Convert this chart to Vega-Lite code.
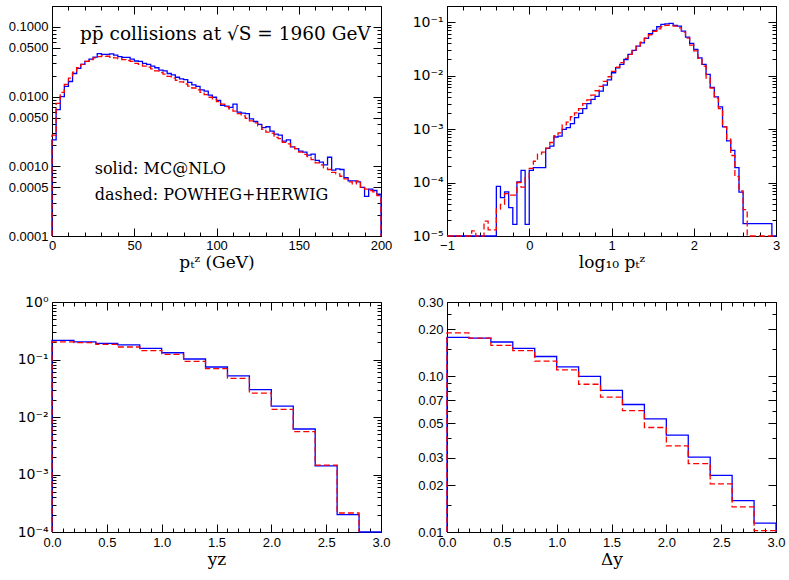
{
"$schema":"https://vega.github.io/schema/vega-lite/v6.json",
"padding":{"left":8,"top":5,"right":5,"bottom":5},
"background":"white",
"bounds":"flush",
"columns":2,
"spacing":{"row":66,"column":66},
"config":{"view":{"stroke":null},
 "axis":{"grid":false,"labelFont":"Liberation Sans","labelFontSize":13,"labelColor":"#000","domainColor":"#000","domainWidth":1,"tickColor":"#000","tickWidth":1,"labelFlush":false,"labelOverlap":false,"titleFont":"DejaVu Serif","titleFontSize":17,"titleFontWeight":"normal","titleColor":"#000","titlePadding":2}},
"datasets":{
"p1b":[{"x":0,"y":1e-9},{"x":0,"y":0.0024},{"x":2.5,"y":0.0065},{"x":5,"y":0.01},{"x":7.5,"y":0.014},{"x":10,"y":0.0165},{"x":12.5,"y":0.0215},{"x":15,"y":0.0255},{"x":17.5,"y":0.029},{"x":20,"y":0.032},{"x":22.5,"y":0.0345},{"x":25,"y":0.037},{"x":27.5,"y":0.0415},{"x":30,"y":0.0405},{"x":32.5,"y":0.0405},{"x":35,"y":0.041},{"x":37.5,"y":0.0395},{"x":40,"y":0.0375},{"x":42.5,"y":0.0365},{"x":45,"y":0.0365},{"x":47.5,"y":0.0345},{"x":50,"y":0.0325},{"x":52.5,"y":0.032},{"x":55,"y":0.03},{"x":57.5,"y":0.029},{"x":60,"y":0.0275},{"x":62.5,"y":0.026},{"x":65,"y":0.024},{"x":67.5,"y":0.0235},{"x":70,"y":0.0215},{"x":72.5,"y":0.0205},{"x":75,"y":0.019},{"x":77.5,"y":0.018},{"x":80,"y":0.0175},{"x":82.5,"y":0.016},{"x":85,"y":0.0148},{"x":87.5,"y":0.014},{"x":90,"y":0.0125},{"x":92.5,"y":0.012},{"x":95,"y":0.0105},{"x":97.5,"y":0.0098},{"x":100,"y":0.0088},{"x":102.5,"y":0.0075},{"x":105,"y":0.0073},{"x":107.5,"y":0.007},{"x":110,"y":0.0078},{"x":112.5,"y":0.006},{"x":115,"y":0.0058},{"x":117.5,"y":0.0057},{"x":120,"y":0.0048},{"x":122.5,"y":0.0044},{"x":125,"y":0.004},{"x":127.5,"y":0.0036},{"x":130,"y":0.0037},{"x":132.5,"y":0.0032},{"x":135,"y":0.0029},{"x":137.5,"y":0.0028},{"x":140,"y":0.0023},{"x":142.5,"y":0.0024},{"x":145,"y":0.0019},{"x":147.5,"y":0.0018},{"x":150,"y":0.00165},{"x":152.5,"y":0.0016},{"x":155,"y":0.00145},{"x":157.5,"y":0.0015},{"x":160,"y":0.00122},{"x":162.5,"y":0.00115},{"x":165,"y":0.00105},{"x":167.5,"y":0.00135},{"x":170,"y":0.00088},{"x":172.5,"y":0.00092},{"x":175,"y":0.0009},{"x":177.5,"y":0.00069},{"x":180,"y":0.00062},{"x":182.5,"y":0.00062},{"x":185,"y":0.0006},{"x":187.5,"y":0.0005},{"x":190,"y":0.00037},{"x":192.5,"y":0.00047},{"x":195,"y":0.00045},{"x":197.5,"y":0.0004},{"x":200,"y":0.0004},{"x":200,"y":1e-9}],
"p1r":[{"x":0,"y":1e-9},{"x":0,"y":0.0028},{"x":2.5,"y":0.008},{"x":5,"y":0.0115},{"x":7.5,"y":0.015},{"x":10,"y":0.0185},{"x":12.5,"y":0.0225},{"x":15,"y":0.026},{"x":17.5,"y":0.029},{"x":20,"y":0.032},{"x":22.5,"y":0.034},{"x":25,"y":0.036},{"x":27.5,"y":0.0375},{"x":30,"y":0.0385},{"x":32.5,"y":0.038},{"x":35,"y":0.037},{"x":37.5,"y":0.036},{"x":40,"y":0.035},{"x":42.5,"y":0.034},{"x":45,"y":0.033},{"x":47.5,"y":0.032},{"x":50,"y":0.03},{"x":52.5,"y":0.029},{"x":55,"y":0.0275},{"x":57.5,"y":0.0265},{"x":60,"y":0.025},{"x":62.5,"y":0.0235},{"x":65,"y":0.0222},{"x":67.5,"y":0.021},{"x":70,"y":0.0195},{"x":72.5,"y":0.0185},{"x":75,"y":0.0172},{"x":77.5,"y":0.0163},{"x":80,"y":0.0152},{"x":82.5,"y":0.0142},{"x":85,"y":0.0133},{"x":87.5,"y":0.0125},{"x":90,"y":0.0115},{"x":92.5,"y":0.0107},{"x":95,"y":0.0098},{"x":97.5,"y":0.0092},{"x":100,"y":0.0085},{"x":102.5,"y":0.0078},{"x":105,"y":0.0072},{"x":107.5,"y":0.0067},{"x":110,"y":0.0062},{"x":112.5,"y":0.0057},{"x":115,"y":0.0053},{"x":117.5,"y":0.0049},{"x":120,"y":0.0045},{"x":122.5,"y":0.0042},{"x":125,"y":0.0038},{"x":127.5,"y":0.0034},{"x":130,"y":0.0031},{"x":132.5,"y":0.003},{"x":135,"y":0.0026},{"x":137.5,"y":0.0025},{"x":140,"y":0.0022},{"x":142.5,"y":0.0021},{"x":145,"y":0.0019},{"x":147.5,"y":0.0018},{"x":150,"y":0.0016},{"x":152.5,"y":0.00148},{"x":155,"y":0.00138},{"x":157.5,"y":0.00125},{"x":160,"y":0.00112},{"x":162.5,"y":0.00105},{"x":165,"y":0.00095},{"x":167.5,"y":0.0009},{"x":170,"y":0.00082},{"x":172.5,"y":0.00078},{"x":175,"y":0.00072},{"x":177.5,"y":0.00066},{"x":180,"y":0.0006},{"x":182.5,"y":0.00056},{"x":185,"y":0.00062},{"x":187.5,"y":0.0005},{"x":190,"y":0.00047},{"x":192.5,"y":0.00045},{"x":195,"y":0.00043},{"x":197.5,"y":0.00038},{"x":200,"y":0.00038},{"x":200,"y":1e-9}],
"p2b":[{"x":-1,"y":1e-9},{"x":-0.95,"y":1e-9},{"x":-0.9,"y":1e-9},{"x":-0.85,"y":1e-9},{"x":-0.8,"y":1e-9},{"x":-0.75,"y":1e-9},{"x":-0.7,"y":1e-9},{"x":-0.65,"y":1e-9},{"x":-0.6,"y":1e-9},{"x":-0.55,"y":1e-9},{"x":-0.5,"y":1e-9},{"x":-0.45,"y":1e-9},{"x":-0.4,"y":8.5e-5},{"x":-0.35,"y":5.2e-5},{"x":-0.3,"y":6.7e-5},{"x":-0.25,"y":3.4e-5},{"x":-0.2,"y":1.65e-5},{"x":-0.15,"y":1.03e-4},{"x":-0.1,"y":1.69e-4},{"x":-0.05,"y":1.65e-5},{"x":0,"y":1.69e-4},{"x":0.05,"y":1.9e-4},{"x":0.1,"y":1.9e-4},{"x":0.15,"y":1.9e-4},{"x":0.2,"y":4.35e-4},{"x":0.25,"y":4.8e-4},{"x":0.3,"y":7.1e-4},{"x":0.35,"y":7.4e-4},{"x":0.4,"y":9.9e-4},{"x":0.45,"y":1.06e-3},{"x":0.5,"y":1.26e-3},{"x":0.55,"y":1.63e-3},{"x":0.6,"y":1.96e-3},{"x":0.65,"y":2.4e-3},{"x":0.7,"y":2.98e-3},{"x":0.75,"y":3.6e-3},{"x":0.8,"y":4.1e-3},{"x":0.85,"y":5.1e-3},{"x":0.9,"y":6.6e-3},{"x":0.95,"y":8.3e-3},{"x":1,"y":0.0113},{"x":1.05,"y":0.014},{"x":1.1,"y":0.0162},{"x":1.15,"y":0.02},{"x":1.2,"y":0.0249},{"x":1.25,"y":0.0295},{"x":1.3,"y":0.0356},{"x":1.35,"y":0.041},{"x":1.4,"y":0.0496},{"x":1.45,"y":0.0605},{"x":1.5,"y":0.07},{"x":1.55,"y":0.0818},{"x":1.6,"y":0.0906},{"x":1.65,"y":0.093},{"x":1.7,"y":0.0944},{"x":1.75,"y":0.0867},{"x":1.8,"y":0.084},{"x":1.85,"y":0.068},{"x":1.9,"y":0.0525},{"x":1.95,"y":0.04},{"x":2,"y":0.0308},{"x":2.05,"y":0.0215},{"x":2.1,"y":0.0162},{"x":2.15,"y":0.0105},{"x":2.2,"y":0.006},{"x":2.25,"y":0.004},{"x":2.3,"y":0.0026},{"x":2.35,"y":0.0011},{"x":2.4,"y":0.0006},{"x":2.45,"y":0.0004},{"x":2.5,"y":0.00019},{"x":2.55,"y":0.000066},{"x":2.6,"y":1.7e-5},{"x":2.65,"y":1.7e-5},{"x":2.7,"y":1.7e-5},{"x":2.75,"y":1.7e-5},{"x":2.8,"y":1.7e-5},{"x":2.85,"y":1.7e-5},{"x":2.9,"y":1.7e-5},{"x":2.95,"y":1e-9},{"x":3,"y":1e-9}],
"p2r":[{"x":-1,"y":1e-9},{"x":-0.95,"y":1e-9},{"x":-0.9,"y":1e-9},{"x":-0.85,"y":1e-9},{"x":-0.8,"y":1e-9},{"x":-0.75,"y":1e-9},{"x":-0.7,"y":1.25e-5},{"x":-0.65,"y":1e-9},{"x":-0.6,"y":1e-9},{"x":-0.55,"y":1.9e-5},{"x":-0.5,"y":1.3e-5},{"x":-0.45,"y":1.3e-5},{"x":-0.4,"y":3.2e-5},{"x":-0.35,"y":3.9e-5},{"x":-0.3,"y":6.2e-5},{"x":-0.25,"y":5.8e-5},{"x":-0.2,"y":5.8e-5},{"x":-0.15,"y":1e-4},{"x":-0.1,"y":8.2e-5},{"x":-0.05,"y":1.23e-4},{"x":0,"y":1.84e-4},{"x":0.05,"y":2.5e-4},{"x":0.1,"y":3.4e-4},{"x":0.15,"y":3.7e-4},{"x":0.2,"y":4.4e-4},{"x":0.25,"y":5.6e-4},{"x":0.3,"y":7.5e-4},{"x":0.35,"y":8.5e-4},{"x":0.4,"y":1.2e-3},{"x":0.45,"y":1.35e-3},{"x":0.5,"y":1.7e-3},{"x":0.55,"y":2e-3},{"x":0.6,"y":2.4e-3},{"x":0.65,"y":3e-3},{"x":0.7,"y":3.5e-3},{"x":0.75,"y":4.3e-3},{"x":0.8,"y":5.2e-3},{"x":0.85,"y":6.3e-3},{"x":0.9,"y":7.8e-3},{"x":0.95,"y":9.5e-3},{"x":1,"y":0.012},{"x":1.05,"y":0.0143},{"x":1.1,"y":0.0175},{"x":1.15,"y":0.021},{"x":1.2,"y":0.025},{"x":1.25,"y":0.03},{"x":1.3,"y":0.0355},{"x":1.35,"y":0.042},{"x":1.4,"y":0.05},{"x":1.45,"y":0.058},{"x":1.5,"y":0.067},{"x":1.55,"y":0.075},{"x":1.6,"y":0.082},{"x":1.65,"y":0.087},{"x":1.7,"y":0.088},{"x":1.75,"y":0.084},{"x":1.8,"y":0.078},{"x":1.85,"y":0.065},{"x":1.9,"y":0.05},{"x":1.95,"y":0.037},{"x":2,"y":0.029},{"x":2.05,"y":0.021},{"x":2.1,"y":0.015},{"x":2.15,"y":0.009},{"x":2.2,"y":0.0058},{"x":2.25,"y":0.0038},{"x":2.3,"y":0.0024},{"x":2.35,"y":0.0011},{"x":2.4,"y":0.00065},{"x":2.45,"y":0.00032},{"x":2.5,"y":0.00013},{"x":2.55,"y":0.00007},{"x":2.6,"y":3.1e-5},{"x":2.65,"y":1e-9},{"x":2.7,"y":1e-9},{"x":2.75,"y":1e-9},{"x":2.8,"y":1e-9},{"x":2.85,"y":1e-9},{"x":2.9,"y":1e-9},{"x":2.95,"y":1e-9},{"x":3,"y":1e-9}],
"p3b":[{"x":0,"y":1e-9},{"x":0,"y":0.215},{"x":0.2,"y":0.202},{"x":0.4,"y":0.191},{"x":0.6,"y":0.179},{"x":0.8,"y":0.156},{"x":1,"y":0.131},{"x":1.2,"y":0.102},{"x":1.4,"y":0.0741},{"x":1.6,"y":0.0517},{"x":1.8,"y":0.0299},{"x":2,"y":0.0155},{"x":2.2,"y":0.00618},{"x":2.4,"y":0.00141},{"x":2.6,"y":0.0002},{"x":2.8,"y":1e-9},{"x":3,"y":1e-9}],
"p3r":[{"x":0,"y":1e-9},{"x":0,"y":0.202},{"x":0.2,"y":0.197},{"x":0.4,"y":0.183},{"x":0.6,"y":0.165},{"x":0.8,"y":0.143},{"x":1,"y":0.123},{"x":1.2,"y":0.093},{"x":1.4,"y":0.0693},{"x":1.6,"y":0.047},{"x":1.8,"y":0.0261},{"x":2,"y":0.0136},{"x":2.2,"y":0.00556},{"x":2.4,"y":0.00146},{"x":2.6,"y":0.000214},{"x":2.8,"y":1e-9}],
"p4b":[{"x":0,"y":1e-9},{"x":0,"y":0.178},{"x":0.2,"y":0.176},{"x":0.4,"y":0.166},{"x":0.6,"y":0.151},{"x":0.8,"y":0.134},{"x":1,"y":0.115},{"x":1.2,"y":0.1},{"x":1.4,"y":0.0812},{"x":1.6,"y":0.0659},{"x":1.8,"y":0.0532},{"x":2,"y":0.0419},{"x":2.2,"y":0.0303},{"x":2.4,"y":0.0231},{"x":2.6,"y":0.0159},{"x":2.8,"y":0.0114},{"x":3,"y":0.0114},{"x":3,"y":1e-9}],
"p4r":[{"x":0,"y":1e-9},{"x":0,"y":0.19},{"x":0.2,"y":0.176},{"x":0.4,"y":0.158},{"x":0.6,"y":0.146},{"x":0.8,"y":0.125},{"x":1,"y":0.11},{"x":1.2,"y":0.0889},{"x":1.4,"y":0.0735},{"x":1.6,"y":0.0602},{"x":1.8,"y":0.0469},{"x":2,"y":0.0357},{"x":2.2,"y":0.0275},{"x":2.4,"y":0.0204},{"x":2.6,"y":0.0145},{"x":2.8,"y":0.0102},{"x":3,"y":0.0102},{"x":3,"y":1e-9}]
},
"concat":[
{"width":329,"height":230,
 "layer":[
  {"data":{"name":"p1b"},"mark":{"type":"line","interpolate":"step-after","color":"#0000ff","strokeWidth":1.3},
   "encoding":{
    "x":{"field":"x","type":"quantitative","scale":{"domain":[0,200],"nice":false,"zero":false},"axis":{"orient":"bottom","values":[0,50,100,150,200],"format":"d","tickSize":-8,"labelPadding":11,"title":"pₜᶻ (GeV)"}},
    "y":{"field":"y","type":"quantitative","scale":{"type":"log","domain":[0.0001,0.2],"nice":false,"clamp":true},"axis":{"orient":"left","values":[0.0001,0.0005,0.001,0.005,0.01,0.05,0.1],"format":".4f","tickSize":-8,"labelPadding":12,"title":null}},
    "order":{"value":null}}},
  {"data":{"name":"p1r"},"mark":{"type":"line","interpolate":"step-after","color":"#ff0000","strokeWidth":1.3,"strokeDash":[6,3]},
   "encoding":{
    "x":{"field":"x","type":"quantitative","scale":{"domain":[0,200],"nice":false,"zero":false},"axis":{"orient":"top","values":[0,50,100,150,200],"tickSize":-8,"labels":false,"title":null}},
    "y":{"field":"y","type":"quantitative","scale":{"type":"log","domain":[0.0001,0.2],"nice":false,"clamp":true},"axis":{"orient":"right","values":[0.0001,0.0005,0.001,0.005,0.01,0.05,0.1],"tickSize":-8,"labels":false,"title":null}},
    "order":{"value":null}}},
  {"data":{"name":"p1b"},"mark":{"type":"line","interpolate":"step-after","opacity":0},
   "encoding":{
    "x":{"field":"x","type":"quantitative","scale":{"domain":[0,200],"nice":false,"zero":false},"axis":{"orient":"bottom","values":[10,20,30,40,60,70,80,90,110,120,130,140,160,170,180,190],"tickSize":-4,"labels":false,"domain":false,"title":null}},
    "y":{"field":"y","type":"quantitative","scale":{"type":"log","domain":[0.0001,0.2],"nice":false,"clamp":true},"axis":{"orient":"left","values":[0.0002,0.0003,0.0004,0.0006,0.0007,0.0008,0.0009,0.002,0.003,0.004,0.006,0.007,0.008,0.009,0.02,0.03,0.04,0.06,0.07,0.08,0.09,0.2],"tickSize":-4,"labels":false,"domain":false,"title":null}},
    "order":{"value":null}}},
  {"data":{"name":"p1b"},"mark":{"type":"line","interpolate":"step-after","opacity":0},
   "encoding":{
    "x":{"field":"x","type":"quantitative","scale":{"domain":[0,200],"nice":false,"zero":false},"axis":{"orient":"top","values":[10,20,30,40,60,70,80,90,110,120,130,140,160,170,180,190],"tickSize":-4,"labels":false,"domain":false,"title":null}},
    "y":{"field":"y","type":"quantitative","scale":{"type":"log","domain":[0.0001,0.2],"nice":false,"clamp":true},"axis":{"orient":"right","values":[0.0002,0.0003,0.0004,0.0006,0.0007,0.0008,0.0009,0.002,0.003,0.004,0.006,0.007,0.008,0.009,0.02,0.03,0.04,0.06,0.07,0.08,0.09,0.2],"tickSize":-4,"labels":false,"domain":false,"title":null}},
    "order":{"value":null}}},
  {"data":{"values":[{"t":"pp̄ collisions at √S = 1960 GeV","x":17,"y":0.065}]},"mark":{"type":"text","font":"DejaVu Serif","fontSize":18.5,"align":"left","baseline":"alphabetic","color":"#000"},
   "encoding":{"x":{"field":"x","type":"quantitative","scale":{"domain":[0,200],"nice":false,"zero":false},"axis":null},"y":{"field":"y","type":"quantitative","scale":{"type":"log","domain":[0.0001,0.2],"nice":false,"clamp":true},"axis":null},"text":{"field":"t"}}},
  {"data":{"values":[{"t":"solid: MC@NLO","x":26,"y":0.00078},{"t":"dashed: POWHEG+HERWIG","x":26,"y":0.00033}]},"mark":{"type":"text","font":"DejaVu Serif","fontSize":16,"align":"left","baseline":"alphabetic","color":"#000"},
   "encoding":{"x":{"field":"x","type":"quantitative","scale":{"domain":[0,200],"nice":false,"zero":false},"axis":null},"y":{"field":"y","type":"quantitative","scale":{"type":"log","domain":[0.0001,0.2],"nice":false,"clamp":true},"axis":null},"text":{"field":"t"}}}
 ],
 "resolve":{"axis":{"x":"independent","y":"independent"}}},
{"width":329,"height":230,
 "layer":[
  {"data":{"name":"p2b"},"mark":{"type":"line","interpolate":"step-after","color":"#0000ff","strokeWidth":1.3},
   "encoding":{
    "x":{"field":"x","type":"quantitative","scale":{"domain":[-1,3],"nice":false,"zero":false},"axis":{"orient":"bottom","values":[-1,0,1,2,3],"format":"d","tickSize":-8,"labelPadding":11,"title":"log₁₀ pₜᶻ"}},
    "y":{"field":"y","type":"quantitative","scale":{"type":"log","domain":[0.00001,0.2],"nice":false,"clamp":true},"axis":{"orient":"left","values":[0.00001,0.0001,0.001,0.01,0.1],"labelExpr":"['10⁻⁵','10⁻⁴','10⁻³','10⁻²','10⁻¹'][round(log(datum.value)/LN10)+5]","labelFont":"DejaVu Sans","labelFontSize":14,"tickSize":-8,"labelPadding":12,"title":null}},
    "order":{"value":null}}},
  {"data":{"name":"p2r"},"mark":{"type":"line","interpolate":"step-after","color":"#ff0000","strokeWidth":1.3,"strokeDash":[6,3]},
   "encoding":{
    "x":{"field":"x","type":"quantitative","scale":{"domain":[-1,3],"nice":false,"zero":false},"axis":{"orient":"top","values":[-1,0,1,2,3],"tickSize":-8,"labels":false,"title":null}},
    "y":{"field":"y","type":"quantitative","scale":{"type":"log","domain":[0.00001,0.2],"nice":false,"clamp":true},"axis":{"orient":"right","values":[0.00001,0.0001,0.001,0.01,0.1],"tickSize":-8,"labels":false,"title":null}},
    "order":{"value":null}}},
  {"data":{"name":"p2b"},"mark":{"type":"line","interpolate":"step-after","opacity":0},
   "encoding":{
    "x":{"field":"x","type":"quantitative","scale":{"domain":[-1,3],"nice":false,"zero":false},"axis":{"orient":"bottom","values":[-0.8,-0.6,-0.4,-0.2,0.2,0.4,0.6,0.8,1.2,1.4,1.6,1.8,2.2,2.4,2.6,2.8],"tickSize":-4,"labels":false,"domain":false,"title":null}},
    "y":{"field":"y","type":"quantitative","scale":{"type":"log","domain":[0.00001,0.2],"nice":false,"clamp":true},"axis":{"orient":"left","values":[0.00002,0.00003,0.00004,0.00005,0.00006,0.00007,0.00008,0.00009,0.0002,0.0003,0.0004,0.0005,0.0006,0.0007,0.0008,0.0009,0.002,0.003,0.004,0.005,0.006,0.007,0.008,0.009,0.02,0.03,0.04,0.05,0.06,0.07,0.08,0.09,0.2],"tickSize":-4,"labels":false,"domain":false,"title":null}},
    "order":{"value":null}}},
  {"data":{"name":"p2b"},"mark":{"type":"line","interpolate":"step-after","opacity":0},
   "encoding":{
    "x":{"field":"x","type":"quantitative","scale":{"domain":[-1,3],"nice":false,"zero":false},"axis":{"orient":"top","values":[-0.8,-0.6,-0.4,-0.2,0.2,0.4,0.6,0.8,1.2,1.4,1.6,1.8,2.2,2.4,2.6,2.8],"tickSize":-4,"labels":false,"domain":false,"title":null}},
    "y":{"field":"y","type":"quantitative","scale":{"type":"log","domain":[0.00001,0.2],"nice":false,"clamp":true},"axis":{"orient":"right","values":[0.00002,0.00003,0.00004,0.00005,0.00006,0.00007,0.00008,0.00009,0.0002,0.0003,0.0004,0.0005,0.0006,0.0007,0.0008,0.0009,0.002,0.003,0.004,0.005,0.006,0.007,0.008,0.009,0.02,0.03,0.04,0.05,0.06,0.07,0.08,0.09,0.2],"tickSize":-4,"labels":false,"domain":false,"title":null}},
    "order":{"value":null}}}
 ],
 "resolve":{"axis":{"x":"independent","y":"independent"}}},
{"width":329,"height":230,
 "layer":[
  {"data":{"name":"p3b"},"mark":{"type":"line","interpolate":"step-after","color":"#0000ff","strokeWidth":1.3},
   "encoding":{
    "x":{"field":"x","type":"quantitative","scale":{"domain":[0,3],"nice":false,"zero":false},"axis":{"orient":"bottom","values":[0,0.5,1,1.5,2,2.5,3],"format":".1f","tickSize":-8,"labelPadding":12,"title":"yᴢ"}},
    "y":{"field":"y","type":"quantitative","scale":{"type":"log","domain":[0.0001,1],"nice":false,"clamp":true},"axis":{"orient":"left","values":[0.0001,0.001,0.01,0.1,1],"labelExpr":"['10⁻⁴','10⁻³','10⁻²','10⁻¹','10⁰'][round(log(datum.value)/LN10)+4]","labelFont":"DejaVu Sans","labelFontSize":14,"tickSize":-8,"labelPadding":12,"title":null}},
    "order":{"value":null}}},
  {"data":{"name":"p3r"},"mark":{"type":"line","interpolate":"step-after","color":"#ff0000","strokeWidth":1.3,"strokeDash":[6,3]},
   "encoding":{
    "x":{"field":"x","type":"quantitative","scale":{"domain":[0,3],"nice":false,"zero":false},"axis":{"orient":"top","values":[0,0.5,1,1.5,2,2.5,3],"tickSize":-8,"labels":false,"title":null}},
    "y":{"field":"y","type":"quantitative","scale":{"type":"log","domain":[0.0001,1],"nice":false,"clamp":true},"axis":{"orient":"right","values":[0.0001,0.001,0.01,0.1,1],"tickSize":-8,"labels":false,"title":null}},
    "order":{"value":null}}},
  {"data":{"name":"p3b"},"mark":{"type":"line","interpolate":"step-after","opacity":0},
   "encoding":{
    "x":{"field":"x","type":"quantitative","scale":{"domain":[0,3],"nice":false,"zero":false},"axis":{"orient":"bottom","values":[0.1,0.2,0.3,0.4,0.6,0.7,0.8,0.9,1.1,1.2,1.3,1.4,1.6,1.7,1.8,1.9,2.1,2.2,2.3,2.4,2.6,2.7,2.8,2.9],"tickSize":-4,"labels":false,"domain":false,"title":null}},
    "y":{"field":"y","type":"quantitative","scale":{"type":"log","domain":[0.0001,1],"nice":false,"clamp":true},"axis":{"orient":"left","values":[0.0002,0.0003,0.0004,0.0005,0.0006,0.0007,0.0008,0.0009,0.002,0.003,0.004,0.005,0.006,0.007,0.008,0.009,0.02,0.03,0.04,0.05,0.06,0.07,0.08,0.09,0.2,0.3,0.4,0.5,0.6,0.7,0.8,0.9],"tickSize":-4,"labels":false,"domain":false,"title":null}},
    "order":{"value":null}}},
  {"data":{"name":"p3b"},"mark":{"type":"line","interpolate":"step-after","opacity":0},
   "encoding":{
    "x":{"field":"x","type":"quantitative","scale":{"domain":[0,3],"nice":false,"zero":false},"axis":{"orient":"top","values":[0.1,0.2,0.3,0.4,0.6,0.7,0.8,0.9,1.1,1.2,1.3,1.4,1.6,1.7,1.8,1.9,2.1,2.2,2.3,2.4,2.6,2.7,2.8,2.9],"tickSize":-4,"labels":false,"domain":false,"title":null}},
    "y":{"field":"y","type":"quantitative","scale":{"type":"log","domain":[0.0001,1],"nice":false,"clamp":true},"axis":{"orient":"right","values":[0.0002,0.0003,0.0004,0.0005,0.0006,0.0007,0.0008,0.0009,0.002,0.003,0.004,0.005,0.006,0.007,0.008,0.009,0.02,0.03,0.04,0.05,0.06,0.07,0.08,0.09,0.2,0.3,0.4,0.5,0.6,0.7,0.8,0.9],"tickSize":-4,"labels":false,"domain":false,"title":null}},
    "order":{"value":null}}}
 ],
 "resolve":{"axis":{"x":"independent","y":"independent"}}},
{"width":329,"height":230,
 "layer":[
  {"data":{"name":"p4b"},"mark":{"type":"line","interpolate":"step-after","color":"#0000ff","strokeWidth":1.3},
   "encoding":{
    "x":{"field":"x","type":"quantitative","scale":{"domain":[0,3],"nice":false,"zero":false},"axis":{"orient":"bottom","values":[0,0.5,1,1.5,2,2.5,3],"format":".1f","tickSize":-8,"labelPadding":12,"title":"Δy"}},
    "y":{"field":"y","type":"quantitative","scale":{"type":"log","domain":[0.01,0.3],"nice":false,"clamp":true},"axis":{"orient":"left","values":[0.01,0.02,0.03,0.05,0.07,0.1,0.2,0.3],"format":".2f","tickSize":-8,"labelPadding":12,"title":null}},
    "order":{"value":null}}},
  {"data":{"name":"p4r"},"mark":{"type":"line","interpolate":"step-after","color":"#ff0000","strokeWidth":1.3,"strokeDash":[6,3]},
   "encoding":{
    "x":{"field":"x","type":"quantitative","scale":{"domain":[0,3],"nice":false,"zero":false},"axis":{"orient":"top","values":[0,0.5,1,1.5,2,2.5,3],"tickSize":-8,"labels":false,"title":null}},
    "y":{"field":"y","type":"quantitative","scale":{"type":"log","domain":[0.01,0.3],"nice":false,"clamp":true},"axis":{"orient":"right","values":[0.01,0.02,0.03,0.05,0.07,0.1,0.2,0.3],"tickSize":-8,"labels":false,"title":null}},
    "order":{"value":null}}},
  {"data":{"name":"p4b"},"mark":{"type":"line","interpolate":"step-after","opacity":0},
   "encoding":{
    "x":{"field":"x","type":"quantitative","scale":{"domain":[0,3],"nice":false,"zero":false},"axis":{"orient":"bottom","values":[0.1,0.2,0.3,0.4,0.6,0.7,0.8,0.9,1.1,1.2,1.3,1.4,1.6,1.7,1.8,1.9,2.1,2.2,2.3,2.4,2.6,2.7,2.8,2.9],"tickSize":-4,"labels":false,"domain":false,"title":null}},
    "y":{"field":"y","type":"quantitative","scale":{"type":"log","domain":[0.01,0.3],"nice":false,"clamp":true},"axis":{"orient":"left","values":[0.015,0.04,0.06,0.08,0.09,0.15,0.25],"tickSize":-4,"labels":false,"domain":false,"title":null}},
    "order":{"value":null}}},
  {"data":{"name":"p4b"},"mark":{"type":"line","interpolate":"step-after","opacity":0},
   "encoding":{
    "x":{"field":"x","type":"quantitative","scale":{"domain":[0,3],"nice":false,"zero":false},"axis":{"orient":"top","values":[0.1,0.2,0.3,0.4,0.6,0.7,0.8,0.9,1.1,1.2,1.3,1.4,1.6,1.7,1.8,1.9,2.1,2.2,2.3,2.4,2.6,2.7,2.8,2.9],"tickSize":-4,"labels":false,"domain":false,"title":null}},
    "y":{"field":"y","type":"quantitative","scale":{"type":"log","domain":[0.01,0.3],"nice":false,"clamp":true},"axis":{"orient":"right","values":[0.015,0.04,0.06,0.08,0.09,0.15,0.25],"tickSize":-4,"labels":false,"domain":false,"title":null}},
    "order":{"value":null}}}
 ],
 "resolve":{"axis":{"x":"independent","y":"independent"}}}
]
}
